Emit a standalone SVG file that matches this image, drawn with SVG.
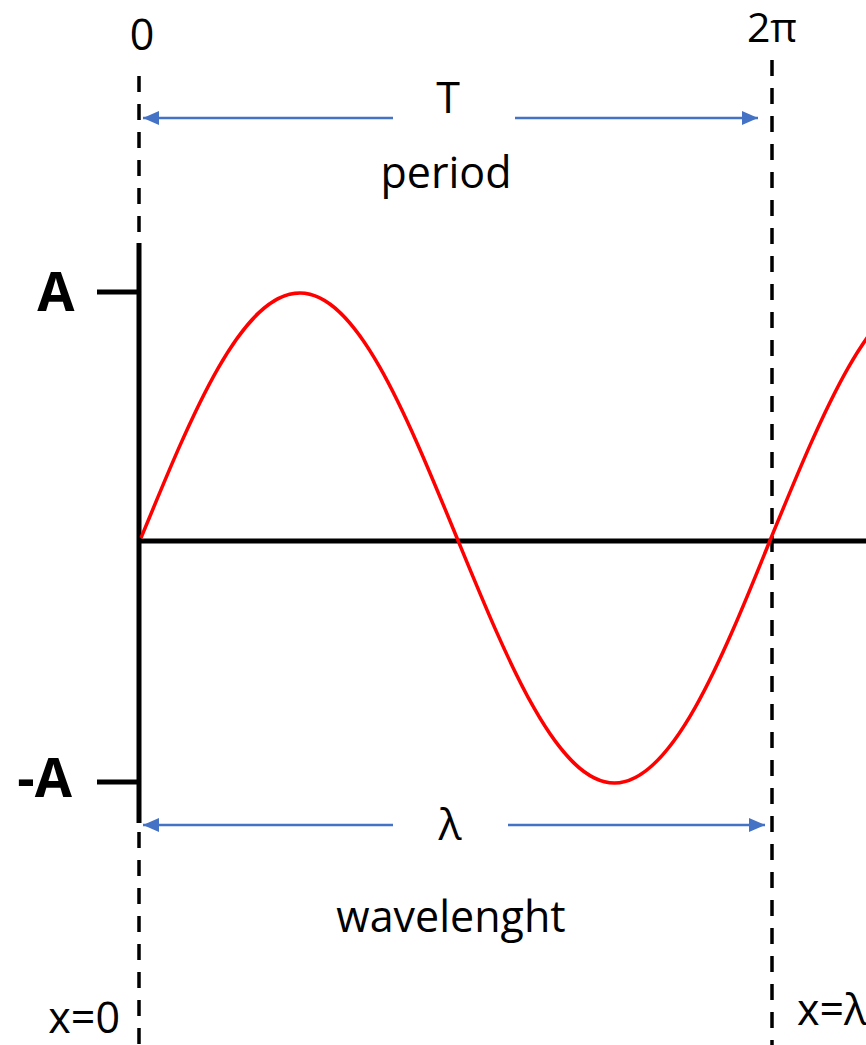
<svg xmlns="http://www.w3.org/2000/svg" width="866" height="1045" viewBox="0 0 866 1045">
<style>
.lbl{font-family:"Open Sans","Liberation Sans",sans-serif;font-size:43px;fill:#000}
.big{font-family:"Open Sans","Liberation Sans",sans-serif;font-size:54px;font-weight:bold;fill:#000}
.dash{stroke:#000;stroke-width:3.5;stroke-dasharray:16 12;fill:none}
.axis{stroke:#000;stroke-width:5;fill:none}
.arr{stroke:#4472C4;stroke-width:2.5;fill:none}
</style>
<defs>
<marker id="ah" viewBox="0 0 16 14" refX="16" refY="7" markerWidth="16" markerHeight="14" markerUnits="userSpaceOnUse" orient="auto">
<path d="M0,0 L16,7 L0,14 Z" fill="#4472C4"/>
</marker>
</defs>
<rect width="866" height="1045" fill="#fff"/>
<g id="guides">
<line class="dash" x1="139" y1="76" x2="139" y2="1045"/>
<line class="dash" x1="772" y1="60" x2="772" y2="1045"/>
</g>
<g id="axes">
<line class="axis" x1="139" y1="243" x2="139" y2="823"/>
<line class="axis" x1="137" y1="541" x2="866" y2="541"/>
<line class="axis" x1="97" y1="292" x2="139" y2="292"/>
<line class="axis" x1="97" y1="782" x2="139" y2="782"/>
</g>
<g id="wave">
<path d="M141,538 C192.4,413 241.5,293 300,293 C357,293 405.6,413 457,538 C508.4,663 557.5,783 614.5,783 C671.5,783 720.6,663 771,538 C822.4,413 871.5,293 928.5,293" stroke="#FF0000" stroke-width="3.5" fill="none"/>
</g>
<g id="connectors">
<line class="arr" x1="393" y1="118" x2="143" y2="118" marker-end="url(#ah)"/>
<line class="arr" x1="515" y1="118" x2="758" y2="118" marker-end="url(#ah)"/>
<line class="arr" x1="393" y1="825" x2="143" y2="825" marker-end="url(#ah)"/>
<line class="arr" x1="508" y1="825" x2="765" y2="825" marker-end="url(#ah)"/>
</g>
<g id="labels">
<text class="lbl" x="142" y="50" text-anchor="middle">0</text>
<text class="lbl" x="772" y="42" text-anchor="middle" style="font-size:41px">2π</text>
<text class="lbl" x="448" y="113" text-anchor="middle">T</text>
<text class="lbl" x="446" y="188" text-anchor="middle">period</text>
<text class="big" x="56" y="311" text-anchor="middle">A</text>
<text class="big" x="72" y="797" text-anchor="end">-A</text>
<text class="lbl" x="450" y="840" text-anchor="middle">λ</text>
<text class="lbl" x="451" y="932" text-anchor="middle">wavelenght</text>
<text class="lbl" x="120" y="1033" text-anchor="end">x=0</text>
<text class="lbl" x="797" y="1025" text-anchor="start">x=λ</text>
</g>
</svg>
